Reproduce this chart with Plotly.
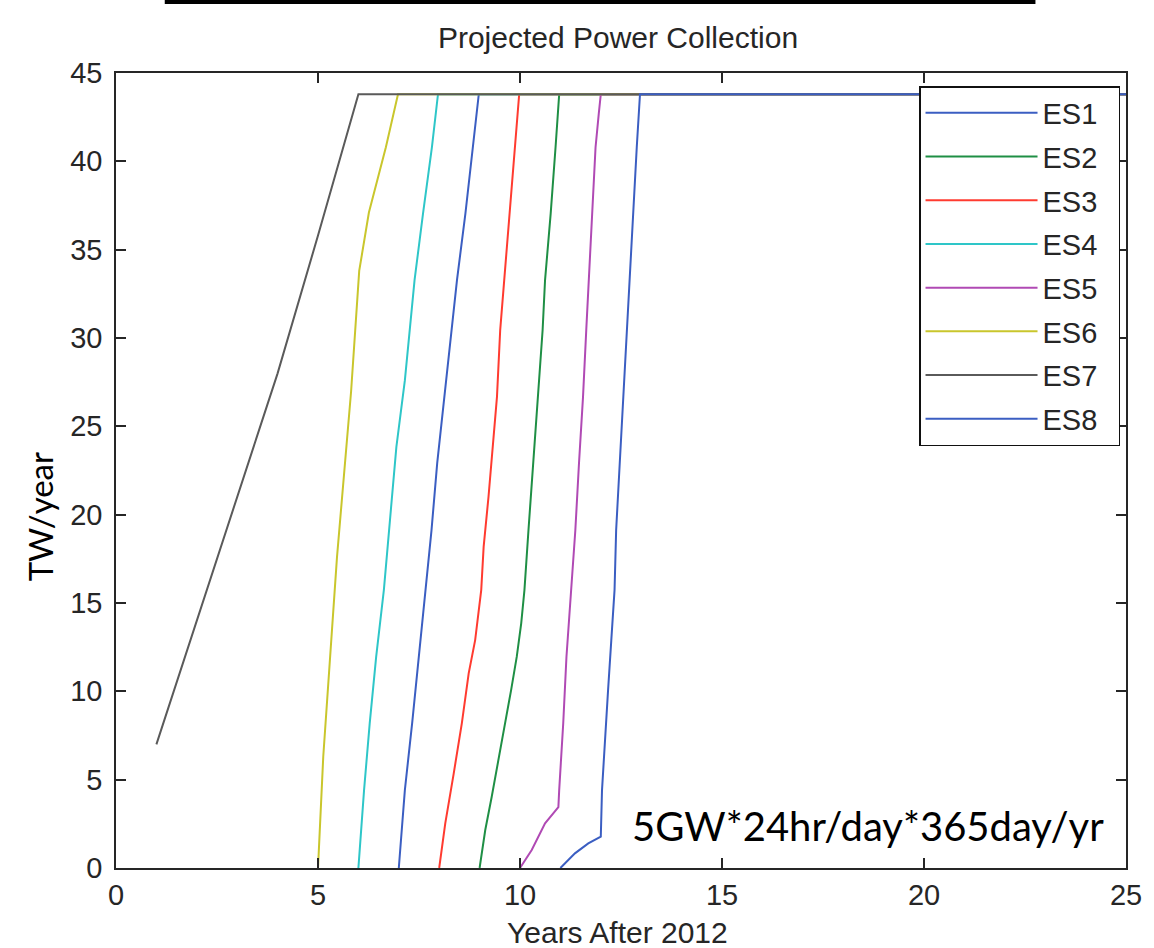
import plotly.graph_objects as go

# ---- data ----
series_names = ["ES1", "ES2", "ES3", "ES4", "ES5", "ES6", "ES7", "ES8"]

es1_x = [7.0, 7.15, 7.33, 7.50, 7.66, 7.81, 7.95, 8.13, 8.31, 8.44, 8.65, 8.98, 25]
es1_y = [0.0, 4.41, 8.19, 11.96, 15.73, 19.13, 22.9, 26.67, 30.3, 33.28, 37.07, 43.8, 43.8]

es2_x = [9.0, 9.14, 9.30, 9.47, 9.63, 9.78, 9.92, 10.03, 10.11, 10.21, 10.33, 10.45, 10.56, 10.62, 10.76, 10.88, 10.97, 25]
es2_y = [0.0, 2.15, 4.03, 6.30, 8.19, 10.07, 11.96, 13.85, 15.73, 19.13, 22.9, 26.67, 30.45, 33.28, 37.05, 40.8, 43.8, 43.8]

es3_x = [8.0, 8.15, 8.36, 8.56, 8.73, 8.89, 9.04, 9.10, 9.22, 9.32, 9.43, 9.51, 9.61, 9.76, 9.88, 9.98, 25]
es3_y = [0.0, 2.53, 5.36, 8.19, 11.02, 12.9, 15.73, 18.18, 21.0, 23.84, 26.67, 30.45, 33.28, 37.05, 40.8, 43.8, 43.8]

es4_x = [6.0, 6.14, 6.28, 6.44, 6.63, 6.76, 6.94, 7.15, 7.27, 7.39, 7.60, 7.82, 7.97, 25]
es4_y = [0.0, 4.41, 8.19, 11.96, 15.73, 19.13, 23.84, 27.6, 30.45, 33.28, 37.05, 40.8, 43.8, 43.8]

es5_x = [10.0, 10.29, 10.62, 10.95, 10.97, 11.07, 11.15, 11.26, 11.37, 11.46, 11.56, 11.64, 11.70, 11.78, 11.87, 11.95, 12.0, 25]
es5_y = [0.0, 1.02, 2.53, 3.45, 4.41, 8.19, 11.96, 15.73, 19.13, 22.9, 26.67, 30.45, 33.28, 37.05, 40.8, 42.7, 43.8, 43.8]

es6_x = [5.0, 5.13, 5.47, 5.82, 6.02, 6.26, 6.68, 6.98, 25]
es6_y = [0.0, 6.3, 17.6, 27.0, 33.8, 37.1, 40.8, 43.8, 43.8]

es7_x = [1, 2, 3, 4, 5, 6, 25]
es7_y = [7.0, 14.0, 21.0, 28.0, 35.8, 43.8, 43.8]

es8_x = [11.0, 11.36, 11.69, 12.0, 12.03, 12.10, 12.18, 12.26, 12.34, 12.38, 12.47, 12.55, 12.65, 12.70, 12.79, 12.89, 12.97, 25]
es8_y = [0.0, 0.83, 1.39, 1.77, 4.41, 7.24, 10.07, 12.9, 15.73, 19.13, 22.9, 26.67, 30.45, 33.28, 37.05, 40.8, 43.8, 43.8]

series_x = [es1_x, es2_x, es3_x, es4_x, es5_x, es6_x, es7_x, es8_x]
series_y = [es1_y, es2_y, es3_y, es4_y, es5_y, es6_y, es7_y, es8_y]
colors = ["#3b5ec2", "#1f8f45", "#ff3b30", "#2ec6c8", "#b04ab4", "#c9c62c", "#5a5a5a", "#3b5ec2"]

x_ticks = [0, 5, 10, 15, 20, 25]
y_ticks = [0, 5, 10, 15, 20, 25, 30, 35, 40, 45]

title_text = "Projected Power Collection"
x_label = "Years After 2012"
y_label = "TW/year"
note_text = "5GW*24hr/day*365day/yr"

# ---- figure ----
W, H = 1154, 948
L, R, T, B = 116, 23, 73, 80
pw, ph = W - L - R, H - T - B

fig = go.Figure()
for name, xs, ys, c in zip(series_names, series_x, series_y, colors):
    # trailing no-break spaces only pad the legend box to the reference width
    fig.add_trace(go.Scatter(x=xs, y=ys, mode="lines", name=name + "\u00a0\u00a0",
                             legendgroup=name, line=dict(color=c, width=2)))

axis_font = dict(family="Liberation Sans, Arial, sans-serif", size=29, color="#262626")
title_font = dict(family="Liberation Sans, Arial, sans-serif", size=30, color="#262626")

fig.update_layout(
    width=W, height=H,
    margin=dict(l=L, r=R, t=T, b=B),
    paper_bgcolor="white", plot_bgcolor="white",
    font=axis_font,
    title=dict(text=title_text, x=618 / W, xanchor="center",
               y=1 - 37 / H, yanchor="middle", yref="container", font=title_font),
    showlegend=True,
    legend=dict(x=(923 - L) / pw, xanchor="left", y=(H - B - 86) / ph, yanchor="top",
                bgcolor="white", bordercolor="#111", borderwidth=1.5,
                font=axis_font, itemwidth=112, tracegroupgap=3),
    xaxis=dict(range=[0, 25], tickvals=x_ticks, ticks="inside", ticklen=10,
               showline=True, mirror="ticks", linecolor="#262626", linewidth=1.5,
               tickcolor="#262626", tickwidth=1.5,
               showgrid=False, zeroline=False, tickfont=axis_font),
    yaxis=dict(range=[0, 45], tickvals=y_ticks, ticks="inside", ticklen=10,
               showline=True, mirror="ticks", linecolor="#262626", linewidth=1.5,
               tickcolor="#262626", tickwidth=1.5,
               showgrid=False, zeroline=False, tickfont=axis_font, ticklabelstandoff=6),
    annotations=[
        dict(text=x_label, xref="paper", yref="paper", x=(620 - L) / pw, y=-(932 - (H - B)) / ph,
             xanchor="center", yanchor="middle", showarrow=False, font=title_font),
        dict(text=y_label, xref="paper", yref="paper", x=(40 - L) / pw, y=(H - B - 517) / ph,
             xanchor="center", yanchor="middle", textangle=-90, showarrow=False,
             font=dict(family="Lato, sans-serif", size=33, color="black")),
        dict(text=note_text, xref="x", yref="y", x=12.73, y=2.4,
             xanchor="left", yanchor="middle", showarrow=False,
             font=dict(family="Lato, sans-serif", size=40, color="black")),
    ],
    shapes=[
        dict(type="rect", xref="paper", yref="paper",
             x0=(165 - L) / pw, x1=(1040 - L) / pw,
             y0=(H - B - 4) / ph, y1=(H - B + 1) / ph,
             fillcolor="black", line=dict(width=0)),
    ],
)

fig.write_html(
    "out.html",
    config={"displayModeBar": False},
    post_script=(
        "document.body.style.margin='0';"
        "document.body.style.padding='0';"
        "document.body.style.overflow='hidden';"
        "document.documentElement.style.overflow='hidden';"
    ),
)
